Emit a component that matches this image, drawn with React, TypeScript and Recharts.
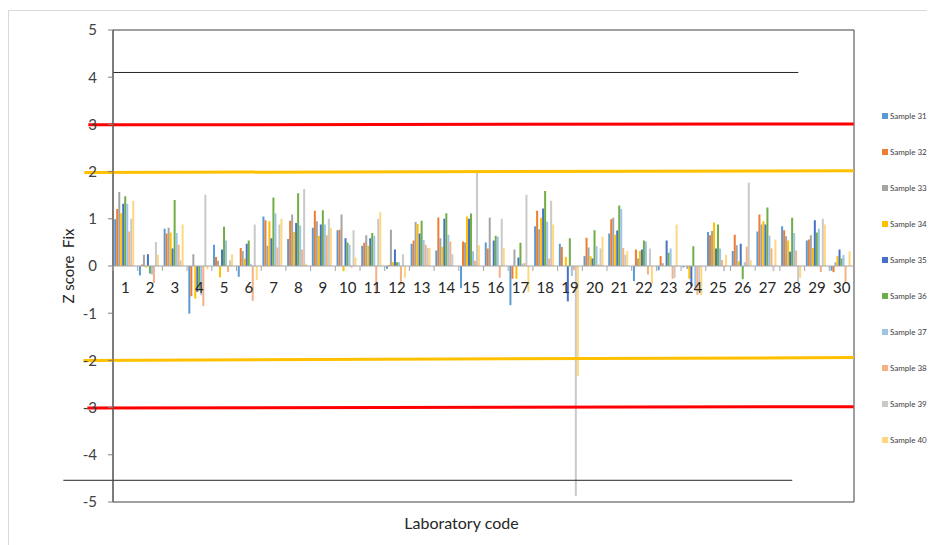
import React from 'react'
import { BarChart, Bar, XAxis, YAxis, ReferenceLine, ReferenceArea } from 'recharts'

// laboratory codes on the category axis
const LABS = ['1', '2', '3', '4', '5', '6', '7', '8', '9', '10', '11', '12', '13', '14', '15',
  '16', '17', '18', '19', '20', '21', '22', '23', '24', '25', '26', '27', '28', '29', '30']

const SAMPLES = ['Sample 31', 'Sample 32', 'Sample 33', 'Sample 34', 'Sample 35',
  'Sample 36', 'Sample 37', 'Sample 38', 'Sample 39', 'Sample 40']

const COLORS = ['#5B9BD5', '#ED7D31', '#A5A5A5', '#FFC000', '#4472C4',
  '#70AD47', '#9DC3E6', '#F4B183', '#C9C9C9', '#FFD780']

// z scores per sample, one value per lab (1..30)
const S31 = [0.99, -0.2, 0.79, -1.01, 0.45, -0.23, 1.05, 0.57, 0.81, 0.76, 0.43, -0.06, 0.47, 0.33, -0.47,
  0.5, -0.83, 0.84, 0.47, 0.21, 0.69, -0.32, -0.09, -0.03, 0.72, 0.32, 0.73, 0.84, 0.54, -0.1]
const S32 = [1.21, 0.03, 0.69, -0.64, 0.19, 0.38, 0.97, 0.96, 1.17, 0.77, 0.49, 0.02, 0.54, 1.03, 0.52,
  0.37, -0.27, 1.17, 0.4, 0.6, 0.99, 0.35, 0.21, 0.0, 0.65, 0.66, 1.09, 0.76, 0.56, -0.13]
const S33 = [1.57, 0.24, 0.81, 0.25, 0.11, 0.32, 0.43, 1.09, 0.95, 1.09, 0.65, 0.77, 0.93, 0.59, 0.5,
  1.02, 0.35, 0.78, 0.0, 0.39, 1.02, 0.16, 0.06, -0.06, 0.74, 0.44, 0.88, 0.63, 0.65, 0.08]
const S34 = [1.12, -0.03, 0.71, -0.69, -0.24, 0.16, 0.95, 0.72, 0.64, -0.11, 0.43, 0.08, 0.89, 0.41, 1.05,
  0.0, -0.27, 1.02, 0.19, 0.21, 0.66, 0.32, 0.0, -0.27, 0.92, 0.1, 0.95, 0.54, 0.38, 0.21]
const S35 = [1.32, 0.25, 0.37, -0.55, 0.35, 0.47, 0.59, 0.91, 0.88, 0.59, 0.59, 0.35, 0.69, 1.0, 1.0,
  0.54, 0.18, 1.22, -0.75, 0.16, 0.75, 0.35, 0.54, -0.42, 0.37, 0.47, 0.88, 0.3, 0.97, 0.35]
const S36 = [1.48, -0.16, 1.4, -0.51, 0.83, 0.54, 1.45, 1.54, 1.18, 0.5, 0.7, 0.08, 0.96, 1.12, 1.11,
  0.64, 0.49, 1.59, 0.59, 0.76, 1.28, 0.54, 0.28, 0.42, 0.88, -0.28, 1.24, 1.02, 0.71, 0.16]
const S37 = [1.32, -0.18, 0.7, -0.62, 0.54, 0.04, 1.11, 0.86, 0.88, 0.45, 0.64, 0.08, 0.55, 0.66, 0.31,
  0.62, 0.05, 0.94, -0.21, 0.42, 1.21, 0.52, 0.37, -0.44, 0.37, 0.08, 0.64, 0.7, 0.79, 0.23]
const S38 = [0.73, -0.36, 0.45, -0.85, -0.13, -0.74, 0.39, 0.35, 0.65, -0.03, -0.59, -0.4, 0.45, 0.52, 0.11,
  -0.25, 0.06, 0.16, -0.09, 0.03, 0.38, -0.18, -0.27, -0.61, 0.13, 0.41, 0.37, 0.33, -0.13, -0.34]
const S39 = [1.0, 0.51, 0.12, 1.51, 0.12, 0.88, 0.88, 1.63, 1.0, 0.76, 1.0, 0.25, 0.38, 0.25, 2.02,
  1.0, 1.51, 1.38, -4.87, 0.37, 0.24, 0.37, -0.25, -0.42, -0.11, 1.77, -0.11, -0.34, 1.0, 0.0]
const S40 = [1.38, 0.24, 0.88, -0.07, 0.25, -0.3, 1.0, 0.05, 0.81, 0.18, 1.14, -0.25, 0.38, 0.0, 0.44,
  0.38, -0.55, 0.88, -2.33, 0.62, 0.31, -0.37, 0.88, -0.62, 0.24, 0.12, 0.56, -0.25, 0.88, 0.31]

const SERIES = [S31, S32, S33, S34, S35, S36, S37, S38, S39, S40]
const Y_TICKS = [-5, -4, -3, -2, -1, 0, 1, 2, 3, 4, 5]

const data = LABS.map((lab, i) => {
  const row: Record<string, number | string> = { lab }
  SERIES.forEach((s, j) => { row['s' + j] = s[i] })
  return row
})

const FONT = 'Lato, "Open Sans", sans-serif'
const W = 923
const H = 540
const M = { top: 19, right: 78, left: 0, bottom: 0 }
const Y_W = 104
const X_H = 49
const PLOT_W = W - M.right - Y_W
const PLOT_H = H - M.top - X_H
// category axis crosses the value axis at 0 (middle of a -5..5 domain)
const ZERO_Y = M.top + PLOT_H / 2

function LabTick(props: any) {
  const { x, payload, index } = props
  const band = PLOT_W / LABS.length
  return (
    <g>
      <line x1={x - band / 2} x2={x - band / 2} y1={ZERO_Y} y2={ZERO_Y + 5} stroke="#A6A6A6" />
      {index === LABS.length - 1 && (
        <line x1={x + band / 2} x2={x + band / 2} y1={ZERO_Y} y2={ZERO_Y + 5} stroke="#A6A6A6" />
      )}
      <text x={x} y={ZERO_Y + 27} textAnchor="middle" fontSize={15} fontFamily={FONT} fill="#262626">
        {payload.value}
      </text>
    </g>
  )
}

// line through the scaled end points, pushed out past the plot edges
const limitLine = (color: string, width: number, extLeft: number, extRight: number) => (p: any) => (
  <line x1={p.x1 - extLeft} y1={p.y1} x2={p.x2 + extRight} y2={p.y2} stroke={color} strokeWidth={width} />
)

export default function App() {
  return (
    <div style={{ position: 'relative', width: W, height: H, marginTop: 2, border: '1px solid #D9D9D9', fontFamily: FONT }}>
      <BarChart width={W} height={H} data={data} margin={M} barGap={0} barCategoryGap="5%">
        <YAxis
          type="number"
          domain={[-5, 5]}
          ticks={Y_TICKS}
          allowDataOverflow
          width={Y_W}
          interval={0}
          axisLine={{ stroke: '#595959' }}
          tickLine={{ stroke: '#808080' }}
          tickSize={5}
          tickMargin={11}
          tick={{ fill: '#404040', fontSize: 15, fontFamily: FONT }}
          label={{
            content: () => (
              <text
                x={59} y={ZERO_Y}
                transform={`rotate(-90, 59, ${ZERO_Y})`}
                textAnchor="middle" dominantBaseline="central"
                fontSize={15} fontFamily={FONT} fill="#262626"
                style={{ whiteSpace: 'pre' }}
              >
                {'Z score  Fix'}
              </text>
            ),
          }}
        />
        <XAxis
          dataKey="lab"
          height={X_H}
          axisLine={false}
          tickLine={false}
          interval={0}
          tick={<LabTick />}
          label={{ value: 'Laboratory code', position: 'insideBottom', offset: 22, dx: -22, fill: '#262626', fontSize: 16, fontFamily: FONT }}
        />
        <ReferenceLine y={0} stroke="#A6A6A6" />
        {SERIES.map((_, j) => (
          <Bar key={j} dataKey={'s' + j} name={SAMPLES[j]} fill={COLORS[j]} isAnimationActive={false} />
        ))}
        <ReferenceLine segment={[{ x: '1', y: 4.1 }, { x: '28', y: 4.1 }]} shape={limitLine('#262626', 1, 12, 6)} />
        <ReferenceLine segment={[{ x: '1', y: 2.99 }, { x: '30', y: 3.01 }]} shape={limitLine('#FF0000', 3, 37, 12)} />
        <ReferenceLine segment={[{ x: '1', y: 1.98 }, { x: '30', y: 2.02 }]} shape={limitLine('#FFC000', 3, 41, 12)} />
        <ReferenceLine segment={[{ x: '1', y: -2.0 }, { x: '30', y: -1.94 }]} shape={limitLine('#FFC000', 3, 42, 12)} />
        <ReferenceLine segment={[{ x: '1', y: -3.01 }, { x: '30', y: -2.98 }]} shape={limitLine('#FF0000', 3, 38, 12)} />
        <ReferenceLine segment={[{ x: '1', y: -4.54 }, { x: '28', y: -4.54 }]} shape={limitLine('#262626', 1, 62, 0)} />
        <ReferenceArea y1={-5} y2={5} fill="none" stroke="#404040" strokeWidth={1} />
      </BarChart>
      <div style={{ position: 'absolute', left: 873, top: 0 }}>
        {SAMPLES.map((name, j) => (
          <div key={name} style={{ position: 'absolute', top: 100 + 36 * j, left: 0, display: 'flex', alignItems: 'center', whiteSpace: 'nowrap' }}>
            <span style={{ width: 6, height: 6, background: COLORS[j], marginRight: 2 }} />
            <span style={{ fontSize: 8, color: '#404040', lineHeight: '10px' }}>{name}</span>
          </div>
        ))}
      </div>
    </div>
  )
}
